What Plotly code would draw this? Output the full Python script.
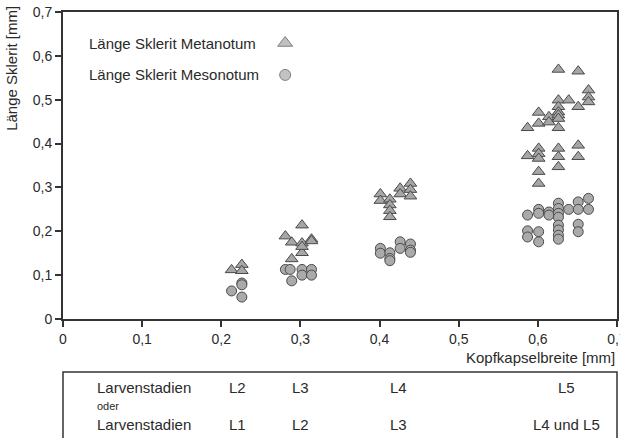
import plotly.graph_objects as go

# Metanotum (triangles)
meta_x = [0.213, 0.226, 0.226,
          0.281, 0.289, 0.289, 0.302, 0.302, 0.302, 0.302, 0.314, 0.314,
          0.401, 0.401, 0.413, 0.413, 0.413, 0.413, 0.426, 0.426, 0.439, 0.439, 0.439,
          0.587, 0.587, 0.601, 0.601, 0.601, 0.601, 0.601, 0.601, 0.601, 0.614, 0.614,
          0.626, 0.626, 0.626, 0.626, 0.626, 0.626, 0.626, 0.626, 0.626, 0.626,
          0.639, 0.651, 0.651, 0.651, 0.651, 0.664, 0.664, 0.664]
meta_y = [0.112, 0.124, 0.110,
          0.189, 0.175, 0.137, 0.214, 0.173, 0.151, 0.165, 0.182, 0.178,
          0.285, 0.270, 0.273, 0.260, 0.247, 0.233, 0.298, 0.285, 0.309, 0.295, 0.280,
          0.436, 0.372, 0.471, 0.446, 0.389, 0.377, 0.366, 0.336, 0.309, 0.461, 0.449,
          0.569, 0.499, 0.484, 0.472, 0.465, 0.457, 0.436, 0.389, 0.370, 0.347,
          0.499, 0.565, 0.484, 0.396, 0.370, 0.522, 0.506, 0.495]

# Mesonotum (circles)
meso_x = [0.213, 0.226, 0.226, 0.226,
          0.281, 0.287, 0.289, 0.302, 0.302, 0.314, 0.314,
          0.401, 0.401, 0.413, 0.413, 0.413, 0.426, 0.426, 0.439, 0.439, 0.439,
          0.587, 0.587, 0.587, 0.601, 0.601, 0.601, 0.601, 0.614, 0.614,
          0.626, 0.626, 0.626, 0.626, 0.626, 0.626, 0.626, 0.626,
          0.639, 0.651, 0.651, 0.651, 0.651, 0.664, 0.664]
meso_y = [0.064, 0.082, 0.078, 0.050,
          0.113, 0.113, 0.087, 0.113, 0.100, 0.113, 0.100,
          0.161, 0.150, 0.151, 0.138, 0.133, 0.176, 0.161, 0.171, 0.157, 0.152,
          0.237, 0.201, 0.187, 0.250, 0.241, 0.199, 0.176, 0.244, 0.237,
          0.264, 0.252, 0.241, 0.232, 0.214, 0.203, 0.191, 0.182,
          0.250, 0.267, 0.250, 0.216, 0.199, 0.275, 0.250]

tick_vals = [0, 0.1, 0.2, 0.3, 0.4, 0.5, 0.6, 0.7]
tick_text = ["0", "0,1", "0,2", "0,3", "0,4", "0,5", "0,6", "0,7"]

legend_labels = ["Länge Sklerit Metanotum", "Länge Sklerit Mesonotum"]
stage_pos = [0.22, 0.30, 0.4235, 0.636]
stages_row1 = ["L2", "L3", "L4", "L5"]
stages_row2 = ["L1", "L2", "L3", "L4 und L5"]

FONT = "Liberation Sans, Arial, sans-serif"
TXT = "#2a2a2a"
EDGE = "#4a4a4a"
FILL = "#a6a6a6"
FS = 15

fig = go.Figure()
fig.add_trace(go.Scatter(x=meta_x, y=meta_y, mode="markers",
                         marker=dict(symbol="triangle-up", size=11, color=FILL,
                                     line=dict(color=EDGE, width=1)),
                         showlegend=False, cliponaxis=False))
fig.add_trace(go.Scatter(x=meso_x, y=meso_y, mode="markers",
                         marker=dict(symbol="circle", size=10, color="#aaaaaa",
                                     line=dict(color=EDGE, width=1)),
                         showlegend=False, cliponaxis=False))

# legend markers on overlay axes
fig.add_trace(go.Scatter(x=[0.401, 0.401], y=[0.899, 0.795], mode="markers",
                         marker=dict(symbol=["triangle-up", "circle"], size=[13, 11],
                                     color=[FILL, "#aaaaaa"], line=dict(color=EDGE, width=1)),
                         xaxis="x2", yaxis="y2", showlegend=False, hoverinfo="skip"))

ann = []
for lbl, py in zip(legend_labels, [0.899, 0.795]):
    ann.append(dict(text=lbl, xref="paper", yref="paper", x=0.043, y=py,
                    xanchor="left", yanchor="middle", showarrow=False,
                    font=dict(size=FS, color=TXT, family=FONT)))
ann.append(dict(text="Länge Sklerit [mm]", xref="paper", yref="paper", x=-0.092, y=1.025,
                xanchor="center", yanchor="top", textangle=-90, showarrow=False,
                font=dict(size=FS, color=TXT, family=FONT)))
ann.append(dict(text="Kopfkapselbreite [mm]", xref="paper", yref="paper", x=1.0, y=-0.124,
                xanchor="right", yanchor="middle", showarrow=False,
                font=dict(size=FS, color=TXT, family=FONT)))
ann.append(dict(text="Larvenstadien", xref="paper", yref="paper", x=0.058, y=-0.2215,
                xanchor="left", yanchor="middle", showarrow=False,
                font=dict(size=FS, color=TXT, family=FONT)))
ann.append(dict(text="oder", xref="paper", yref="paper", x=0.058, y=-0.285,
                xanchor="left", yanchor="middle", showarrow=False,
                font=dict(size=11, color=TXT, family=FONT)))
ann.append(dict(text="Larvenstadien", xref="paper", yref="paper", x=0.058, y=-0.345,
                xanchor="left", yanchor="middle", showarrow=False,
                font=dict(size=FS, color=TXT, family=FONT)))
for xp, t1, t2 in zip(stage_pos, stages_row1, stages_row2):
    ann.append(dict(text=t1, xref="x", yref="paper", x=xp, y=-0.2215,
                    xanchor="center", yanchor="middle", showarrow=False,
                    font=dict(size=FS, color=TXT, family=FONT)))
    ann.append(dict(text=t2, xref="x", yref="paper", x=xp, y=-0.345,
                    xanchor="center", yanchor="middle", showarrow=False,
                    font=dict(size=FS, color=TXT, family=FONT)))

shapes = [dict(type="rect", xref="paper", yref="paper", x0=0, x1=1, y0=-0.1726, y1=-0.6,
               line=dict(color="#333333", width=1.5), fillcolor="rgba(0,0,0,0)")]

axis_common = dict(range=[0, 0.7], tickvals=tick_vals, ticktext=tick_text,
                   showgrid=False, zeroline=False, showline=True, linecolor="#333333",
                   linewidth=2, mirror=True, ticks="outside", ticklen=6, tickwidth=1.5,
                   tickcolor="#333333", ticklabeloverflow="allow", automargin=False,
                   tickfont=dict(size=14, color=TXT, family=FONT))

fig.update_layout(
    width=620, height=438,
    margin=dict(l=63, r=3, t=12, b=119, autoexpand=False),
    paper_bgcolor="white", plot_bgcolor="white",
    font=dict(family=FONT, size=FS, color=TXT),
    annotations=ann, shapes=shapes,
    xaxis=axis_common,
    yaxis=axis_common,
    xaxis2=dict(range=[0, 1], overlaying="x", visible=False, fixedrange=True),
    yaxis2=dict(range=[0, 1], overlaying="y", visible=False, fixedrange=True),
)

fig.write_html("out.html", config={"displayModeBar": False},
               post_script="document.body.style.margin='0';document.body.style.overflow='hidden';")
